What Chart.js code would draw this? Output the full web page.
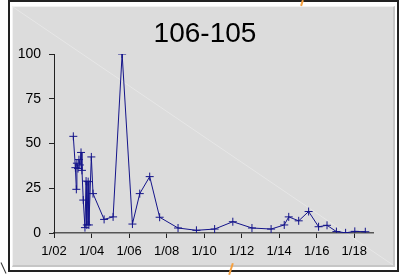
<!DOCTYPE html>
<html>
<head>
<meta charset="utf-8">
<script src="https://cdn.jsdelivr.net/npm/chart.js@4.4.1/dist/chart.umd.min.js"></script>
<style>
  body { margin: 0; background: #fff; }
  #frame { position: absolute; left: 8px; top: 0; width: 387px; height: 268px; border: 2px solid #222; }
  #panel { position: absolute; left: 12px; top: 6px; width: 380px; height: 258px; background: #dcdcdc;
           border-top: 1px solid #f2f2f2; border-left: 1px solid #f2f2f2;
           border-right: 2px solid #c6c6c6; border-bottom: 2px solid #c6c6c6; }
  .mark { position: absolute; width: 2px; }
  canvas { position: absolute; left: 0; top: 0; }
</style>
</head>
<body>
<div id="frame"></div>
<div id="panel"></div>
<div class="mark" style="left:301px;top:0;height:6px;background:#f5a040;transform:rotate(18deg)"></div>
<div class="mark" style="left:230px;top:263px;height:12px;background:#f5a040;transform:rotate(18deg)"></div>
<div class="mark" style="left:3px;top:262px;height:12px;width:1px;background:#333;transform:rotate(-25deg)"></div>
<canvas id="grafico" width="401" height="275"></canvas>
<script>
// fechas como años decimales y valores
const fechas = [2003.03, 2003.14, 2003.19, 2003.22, 2003.28, 2003.33, 2003.38, 2003.44, 2003.49, 2003.56,
  2003.65, 2003.71, 2003.75, 2003.82, 2003.86, 2003.99, 2004.08, 2004.67, 2005.15, 2005.63,
  2006.18, 2006.57, 2007.10, 2007.63, 2008.61, 2009.59, 2010.56, 2011.53, 2012.55, 2013.57,
  2014.27, 2014.51, 2015.04, 2015.57, 2016.10, 2016.55, 2017.05, 2017.54, 2018.03, 2018.59];
const valores = [54, 36.5, 24.4, 39, 36, 41, 38, 45, 35, 18.4,
  3, 29, 4.5, 28.7, 4.5, 42.5, 22, 7.6, 9, 100,
  5, 22, 31.5, 8.8, 2.8, 1.5, 2.2, 6.3, 2.8, 2.2,
  4.5, 9, 6.8, 12, 3.5, 4.3, 0.8, 0.1, 0.9, 0.7];
const ticksX = [2002, 2004, 2006, 2008, 2010, 2012, 2014, 2016, 2018];
const ticksY = [0, 25, 50, 75, 100];
const titulo = '106-105';

const puntos = fechas.map((f, i) => ({ x: f, y: valores[i] }));

// linea diagonal tenue del fondo
const diagonal = {
  id: 'diagonal',
  beforeDraw(chart) {
    const c = chart.ctx;
    c.save();
    c.strokeStyle = 'rgba(255,255,255,0.3)';
    c.lineWidth = 1;
    c.beginPath();
    c.moveTo(13, 7);
    c.lineTo(393, 265);
    c.stroke();
    c.restore();
  }
};

new Chart(document.getElementById('grafico').getContext('2d'), {
  type: 'line',
  data: {
    datasets: [{
      data: puntos,
      borderColor: '#14148a',
      borderWidth: 1,
      pointStyle: 'cross',
      pointRadius: 4,
      pointBorderColor: '#14148a',
      pointBorderWidth: 1,
      tension: 0,
      fill: false
    }]
  },
  options: {
    responsive: false,
    animation: false,
    layout: { padding: { left: 9, right: 0, top: 0, bottom: 0 } },
    plugins: {
      legend: { display: false },
      tooltip: { enabled: false },
      title: {
        display: true,
        text: titulo,
        color: '#000',
        font: { family: 'Liberation Sans, Arial', size: 28, weight: 'normal' },
        padding: { top: 17, bottom: 3.4 }
      }
    },
    scales: {
      x: {
        type: 'linear',
        min: 2002,
        max: 2019,
        afterFit(scale) { scale.height = 42; },
        afterBuildTicks(scale) { scale.ticks = ticksX.map(v => ({ value: v })); },
        grid: { display: true, drawOnChartArea: false, drawTicks: true, tickLength: 5, color: '#222' },
        border: { display: true, color: '#555', width: 1.5 },
        ticks: {
          padding: 6,
          color: '#000',
          maxRotation: 0,
          font: { family: 'Liberation Sans, Arial', size: 13 },
          callback: v => '1/' + String(v).slice(2)
        }
      },
      y: {
        min: 0,
        max: 100,
        afterFit(scale) { scale.width = 45; },
        afterBuildTicks(scale) { scale.ticks = ticksY.map(v => ({ value: v })); },
        grid: { display: true, drawOnChartArea: false, drawTicks: true, tickLength: 5, color: '#222' },
        border: { display: true, color: '#222', width: 1 },
        ticks: {
          padding: 8,
          color: '#000',
          font: { family: 'Liberation Sans, Arial', size: 14 }
        }
      },
      // eje vacio a la derecha, solo reserva el margen
      derecha: {
        position: 'right',
        min: 0,
        max: 100,
        afterFit(scale) { scale.width = 28; },
        grid: { display: false },
        border: { display: false },
        ticks: { display: false }
      }
    }
  },
  plugins: [diagonal]
});
</script>
</body>
</html>
